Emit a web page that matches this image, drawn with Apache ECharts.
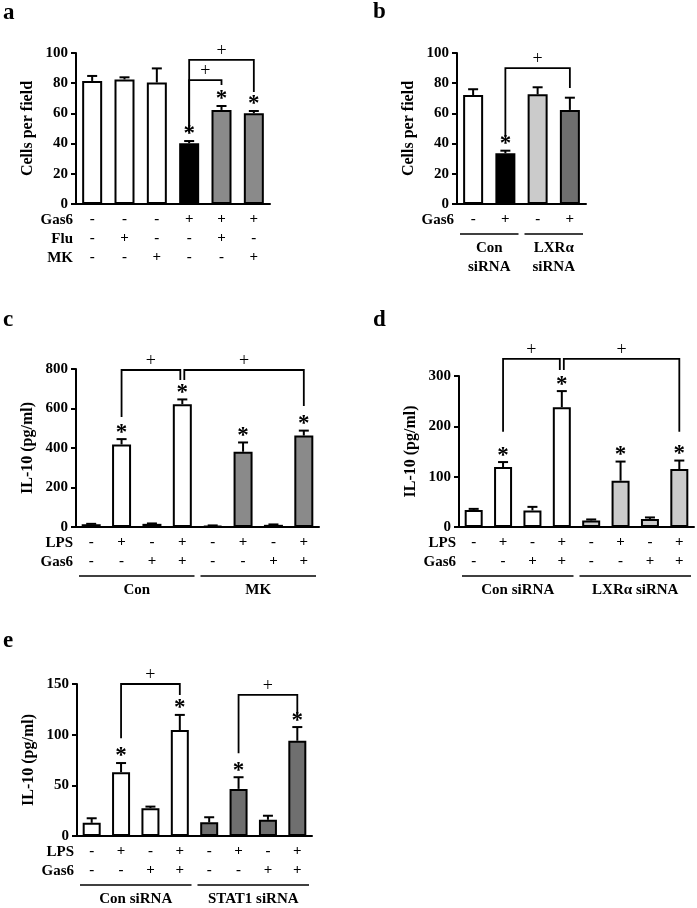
<!DOCTYPE html>
<html><head><meta charset="utf-8">
<script src="https://cdn.jsdelivr.net/npm/echarts@6/dist/echarts.min.js"></script>
<style>html,body{margin:0;padding:0;background:#fff}#c{width:697px;height:908px}</style>
</head><body><div id="c"></div>
<script>
// ---------- DATA ----------
// Panel a
const aMeans = [81.5, 82.5, 80.5, 40.2, 62.3, 60.1];
const aErrs  = [3.3, 1.4, 9.3, 1.5, 2.6, 1.5];
const aSig   = [0, 0, 0, 1, 1, 1];
const aGas6  = ['-', '-', '-', '+', '+', '+'];
const aFlu   = ['-', '+', '-', '-', '+', '-'];
const aMK    = ['-', '-', '+', '-', '-', '+'];
const aTicks = [0, 20, 40, 60, 80, 100];
// brackets: [from bar, to bar, bracket level, left leg end, right leg end]
const aBrackets = [[3, 5, 95.4, 47.7, 74.2], [3, 4, 82.1, 47.7, 78.8]];

// Panel b
const bMeans = [72.2, 33.6, 72.6, 62.3];
const bErrs  = [3.8, 1.7, 4.7, 8.1];
const bSig   = [0, 1, 0, 0];
const bGas6  = ['-', '+', '-', '+'];
const bGroups = [['Con\nsiRNA', 0, 1], ['LXRα\nsiRNA', 2, 3]];
const bTicks = [0, 20, 40, 60, 80, 100];
const bBrackets = [[1, 3, 90, 44.4, 76.8]];

// Panel c
const cMeans = [14, 418, 16, 622, 6, 381, 11, 463];
const cErrs  = [2, 27, 2, 24, 2, 47, 2, 25];
const cSig   = [0, 1, 0, 1, 0, 1, 0, 1];
const cLPS   = ['-', '+', '-', '+', '-', '+', '-', '+'];
const cGas6  = ['-', '-', '+', '+', '-', '-', '+', '+'];
const cGroups = [['Con', 0, 3], ['MK', 4, 7]];
const cTicks = [0, 200, 400, 600, 800];
const cBrackets = [[1, 3, 795, 557, 744], [3, 7, 795, 744, 613]];

// Panel d
const dMeans = [34, 119, 33, 238, 13, 92, 16, 115];
const dErrs  = [2, 10, 7, 32, 2, 38, 3, 17];
const dSig   = [0, 1, 0, 1, 0, 1, 0, 1];
const dLPS   = ['-', '+', '-', '+', '-', '+', '-', '+'];
const dGas6  = ['-', '-', '+', '+', '-', '-', '+', '+'];
const dGroups = [['Con siRNA', 0, 3], ['LXRα siRNA', 4, 7]];
const dTicks = [0, 100, 200, 300];
const dBrackets = [[1, 3, 334, 189, 312], [3, 7, 334, 312, 189]];

// Panel e
const eMeans = [13, 63, 27.5, 104.5, 13.5, 46.5, 16, 94];
const eErrs  = [4.5, 9, 1.5, 15, 5, 11.5, 4, 13.5];
const eSig   = [0, 1, 0, 1, 0, 1, 0, 1];
const eLPS   = ['-', '+', '-', '+', '-', '+', '-', '+'];
const eGas6  = ['-', '-', '+', '+', '-', '-', '+', '+'];
const eGroups = [['Con siRNA', 0, 3], ['STAT1 siRNA', 4, 7]];
const eTicks = [0, 50, 100, 150];
const eBrackets = [[1, 3, 150, 96.4, 139.2], [5, 7, 139.2, 81.6, 119.4]];

// ---------- LAYOUT / STYLE ----------
const FONT = 'Liberation Serif';
const W = '#ffffff', K = '#000000', G = '#8a8a8a', LG = '#cbcbcb', DG = '#6f6f6f';
const panels = [
  {letter: 'a', lx: 3, ly: 13, grid: {left: 76, top: 53, width: 194, height: 151}, ticks: aTicks,
   title: 'Cells per field', means: aMeans, errs: aErrs, sig: aSig,
   fills: [W, W, W, K, G, G], rows: [['Gas6', aGas6], ['Flu', aFlu], ['MK', aMK]],
   groups: [], brackets: aBrackets, barWidth: 20},
  {letter: 'b', lx: 373, ly: 12, grid: {left: 457, top: 53, width: 129, height: 151}, ticks: bTicks,
   title: 'Cells per field', means: bMeans, errs: bErrs, sig: bSig,
   fills: [W, K, LG, DG], rows: [['Gas6', bGas6]],
   groups: bGroups, brackets: bBrackets, barWidth: 20},
  {letter: 'c', lx: 3, ly: 320, grid: {left: 76, top: 369, width: 243, height: 158}, ticks: cTicks,
   title: 'IL-10 (pg/ml)', means: cMeans, errs: cErrs, sig: cSig,
   fills: [W, W, W, W, G, G, G, G], rows: [['LPS', cLPS], ['Gas6', cGas6]],
   groups: cGroups, brackets: cBrackets, barWidth: 19},
  {letter: 'd', lx: 373, ly: 320, grid: {left: 459, top: 376, width: 235, height: 151}, ticks: dTicks,
   title: 'IL-10 (pg/ml)', means: dMeans, errs: dErrs, sig: dSig,
   fills: [W, W, W, W, LG, LG, LG, LG], rows: [['LPS', dLPS], ['Gas6', dGas6]],
   groups: dGroups, brackets: dBrackets, barWidth: 18},
  {letter: 'e', lx: 3, ly: 641, grid: {left: 77, top: 684, width: 235, height: 152}, ticks: eTicks,
   title: 'IL-10 (pg/ml)', means: eMeans, errs: eErrs, sig: eSig,
   fills: [W, W, W, W, DG, DG, DG, DG], rows: [['LPS', eLPS], ['Gas6', eGas6]],
   groups: eGroups, brackets: eBrackets, barWidth: 18}
];

const ROW_H = 19, ROW0 = 16;

const grids = [], xAxes = [], yAxes = [], series = [], graphics = [];
panels.forEach((p, gi) => {
  grids.push(Object.assign({containLabel: false}, p.grid));
  xAxes.push({
    type: 'category', gridIndex: gi, data: p.means.map((_, i) => String(i)),
    axisLine: {lineStyle: {color: '#000', width: 2}}, axisTick: {show: false},
    axisLabel: {
      interval: 0, margin: 6, color: '#000', fontFamily: FONT, fontWeight: 'bold', fontSize: 15, lineHeight: ROW_H,
      formatter: (v, i) => p.rows.map(r => r[1][i]).join('\n')
    }
  });
  const tk = p.ticks;
  yAxes.push({
    type: 'value', gridIndex: gi, min: tk[0], max: tk[tk.length - 1], interval: tk[1] - tk[0],
    name: p.title, nameLocation: 'middle', nameGap: 40, nameRotate: 90,
    nameTextStyle: {color: '#000', fontFamily: FONT, fontWeight: 'bold', fontSize: 16},
    axisLine: {show: true, lineStyle: {color: '#000', width: 2}},
    axisTick: {show: true, length: 5, lineStyle: {color: '#000', width: 2}},
    axisLabel: {margin: 8, color: '#000', fontFamily: FONT, fontWeight: 'bold', fontSize: 15},
    splitLine: {show: false}
  });
  series.push({
    type: 'bar', xAxisIndex: gi, yAxisIndex: gi, barWidth: p.barWidth, z: 2,
    data: p.means.map((v, i) => ({value: v, itemStyle: {color: p.fills[i], borderColor: '#000', borderWidth: 2}})),
    silent: true, animation: false
  });
  series.push({
    type: 'custom', xAxisIndex: gi, yAxisIndex: gi, z: 3, clip: false, animation: false, silent: true,
    encode: {x: 0, y: 1},
    data: p.means.map((v, i) => [i, v, p.errs[i], p.sig[i]]),
    renderItem: (params, api) => {
      const idx = api.value(0), m = api.value(1), e = api.value(2), s = api.value(3);
      const p1 = api.coord([idx, m]), p2 = api.coord([idx, m + e]);
      const ch = [];
      if (e > 0) {
        ch.push({type: 'line', shape: {x1: p1[0], y1: p1[1], x2: p2[0], y2: p2[1]}, style: {stroke: '#000', lineWidth: 2}});
        ch.push({type: 'line', shape: {x1: p2[0] - 5, y1: p2[1], x2: p2[0] + 5, y2: p2[1]}, style: {stroke: '#000', lineWidth: 2}});
      }
      if (s) ch.push({type: 'text', style: {text: '*', x: p2[0], y: p2[1] + 5, align: 'center', verticalAlign: 'bottom',
        font: 'bold 23px ' + FONT, fill: '#000'}});
      return {type: 'group', children: ch};
    }
  });
  // brackets (with small gap where one bracket ends and another begins at same bar)
  const bdata = p.brackets.map((b, k) => {
    const shL = p.brackets.some((o, j) => j !== k && o[1] === b[0]) ? 2 : 0;
    const shR = p.brackets.some((o, j) => j !== k && o[0] === b[1]) ? -2 : 0;
    return [b[0], b[1], b[2], b[3], b[4], shL, shR];
  });
  series.push({
    type: 'custom', xAxisIndex: gi, yAxisIndex: gi, z: 4, clip: false, animation: false, silent: true,
    encode: {x: 0, y: 2}, data: bdata,
    renderItem: (params, api) => {
      const i1 = api.value(0), i2 = api.value(1), y = api.value(2), yl = api.value(3), yr = api.value(4);
      const sl = api.value(5), sr = api.value(6);
      const a = api.coord([i1, y]), b = api.coord([i2, y]);
      const al = api.coord([i1, yl]), br = api.coord([i2, yr]);
      const xa = a[0] + sl, xb = b[0] + sr;
      return {type: 'group', children: [
        {type: 'polyline', shape: {points: [[xa, al[1]], [xa, a[1]], [xb, b[1]], [xb, br[1]]]},
         style: {stroke: '#000', lineWidth: 1.8, fill: null}},
        {type: 'text', style: {text: '+', x: (xa + xb) / 2, y: a[1] - 9, align: 'center', verticalAlign: 'middle',
         font: 'normal 18px ' + FONT, fill: '#000'}}
      ]};
    }
  });
  // group underlines and labels
  if (p.groups.length) {
    const off = ROW0 + ROW_H * (p.rows.length - 1) + 14;
    series.push({
      type: 'custom', xAxisIndex: gi, yAxisIndex: gi, z: 4, clip: false, animation: false, silent: true,
      encode: {x: 0, y: 2}, data: p.groups.map((g, k) => [g[1], g[2], 0, k]),
      renderItem: (params, api) => {
        const s = api.coord([api.value(0), 0]), e = api.coord([api.value(1), 0]);
        const band = api.size([1, 0])[0];
        const x1 = s[0] - band / 2 + 3, x2 = e[0] + band / 2 - 3, y = s[1] + off;
        return {type: 'group', children: [
          {type: 'line', shape: {x1, y1: y, x2, y2: y}, style: {stroke: '#000', lineWidth: 1.5}},
          {type: 'text', style: {text: p.groups[api.value(3)][0], x: (x1 + x2) / 2, y: y + 5, align: 'center',
           verticalAlign: 'top', lineHeight: 19, font: 'bold 15px ' + FONT, fill: '#000'}}
        ]};
      }
    });
  }
  // row names
  const gb = p.grid.top + p.grid.height;
  p.rows.forEach((r, k) => {
    graphics.push({type: 'text', x: p.grid.left - 3, y: gb + ROW0 + ROW_H * k,
      style: {text: r[0], align: 'right', verticalAlign: 'middle', font: 'bold 15px ' + FONT, fill: '#000'}});
  });
  graphics.push({type: 'text', x: p.lx, y: p.ly,
    style: {text: p.letter, align: 'left', verticalAlign: 'middle', font: 'bold 23px ' + FONT, fill: '#000'}});
});

const chart = echarts.init(document.getElementById('c'), null, {renderer: 'canvas'});
chart.setOption({
  backgroundColor: '#fff', animation: false,
  grid: grids, xAxis: xAxes, yAxis: yAxes, series: series, graphic: graphics
});
</script></body></html>
